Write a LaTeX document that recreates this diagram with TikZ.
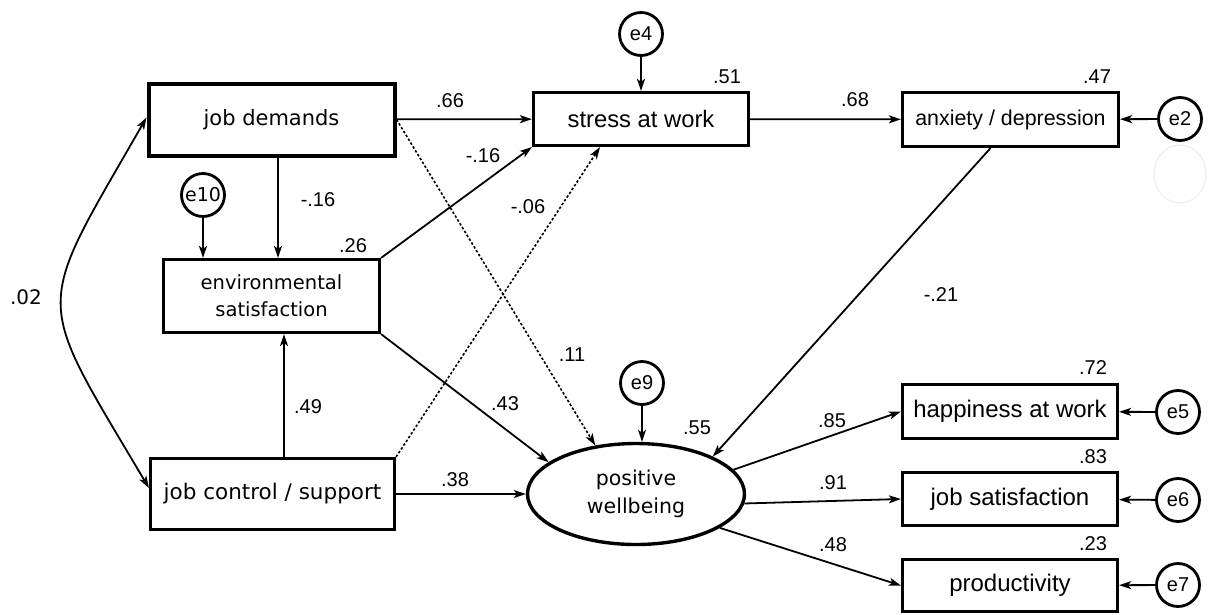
\documentclass[tikz,border=0pt]{standalone}
\usepackage{fontspec}
\setmainfont{Liberation Sans}
\newfontfamily\dvs{DejaVu Sans}
\usetikzlibrary{arrows.meta,shapes.geometric}

\begin{document}
\begin{tikzpicture}[x=1pt,y=-1pt,
  box/.style={draw,line width=3.2pt,inner sep=0pt,align=center},
  errc/.style={circle,draw,line width=2.8pt,minimum size=43pt,inner sep=0pt,
    font=\fontsize{20}{24}\selectfont},
  lab/.style={inner sep=0pt,font=\fontsize{20}{24}\selectfont},
  arr/.style={line width=1.8pt,-{Stealth[length=12pt,width=8pt,inset=3pt]}},
  dblarr/.style={line width=1.8pt,{Stealth[length=12pt,width=8pt,inset=3pt]}-{Stealth[length=12pt,width=8pt,inset=3pt]}},
  dotline/.style={dash pattern=on 2.5pt off 2pt,line width=1.6pt}
]
\useasboundingbox (0,0) rectangle (1208,614);

% faint residual outline to the right
\draw[black!7,line width=1.2pt] (1180,174) ellipse [x radius=26pt,y radius=29pt];

% observed and latent variables
\node[box,line width=4pt,minimum width=246pt,minimum height=72pt,
  font=\dvs\fontsize{21}{25}\selectfont] (jd) at (271.5,119.5) {job demands};
\node[box,minimum width=215pt,minimum height=53pt,
  font=\fontsize{23.8}{28}\selectfont] (st) at (641,119) {stress at work};
\node[box,minimum width=216pt,minimum height=54pt,
  font=\fontsize{21.4}{25}\selectfont] (ax) at (1010.5,119.5) {anxiety / depression};
\node[box,minimum width=216pt,minimum height=73pt,
  font=\dvs\fontsize{19.5}{27}\selectfont] (es) at (271.5,296) {environmental\\satisfaction};
\node[box,minimum width=244pt,minimum height=71pt,
  font=\dvs\fontsize{21.5}{25}\selectfont] (jc) at (272.5,494) {job control / support};
\node[ellipse,draw,line width=3.4pt,minimum width=217pt,minimum height=101pt,inner sep=0pt,
  align=center,font=\dvs\fontsize{20.5}{28}\selectfont] (pw) at (636,494) {positive\\wellbeing};
\node[box,minimum width=215pt,minimum height=54pt,
  font=\fontsize{24}{28}\selectfont] (hp) at (1010,411.5) {happiness at work};
\node[box,minimum width=215pt,minimum height=53pt,
  font=\fontsize{24}{28}\selectfont] (js) at (1010,499) {job satisfaction};
\node[box,minimum width=215pt,minimum height=52pt,
  font=\fontsize{24}{28}\selectfont] (pr) at (1010,585.5) {productivity};

% error terms
\node[errc] (e4) at (641,34) {e4};
\node[errc] (e2) at (1180,119) {e2};
\node[errc,font=\dvs\fontsize{19}{23}\selectfont] (e10) at (203,195) {e10};
\node[errc] (e9) at (642,383) {e9};
\node[errc] (e5) at (1178,412) {e5};
\node[errc] (e6) at (1178,500) {e6};
\node[errc] (e7) at (1178,585) {e7};

% structural paths
\draw[arr] (jd) -- (st);
\draw[arr,dotline] (jd.east) -- (pw.130);
\draw[arr] (es.north east) -- (st.south west);
\draw[arr,dotline] (jc.north east) -- ([xshift=-41pt]st.south);
\draw[arr] (es.south east) -- (pw.160);
\draw[arr] (jc) -- (pw);
\draw[arr] (st) -- (ax);
\draw[arr] ([xshift=-20pt]ax.south) -- (pw.26);
\draw[arr] (pw.14) -- (hp.west);
\draw[arr] (pw.355) -- (js.west);
\draw[arr] (pw.338) -- (pr.west);
\draw[arr] ([xshift=6.5pt]jd.south) -- ([xshift=6.5pt]jd.south |- es.north);
\draw[arr] ([xshift=11.5pt]jc.north) -- ([xshift=11.5pt]jc.north |- es.south);

% residual paths
\draw[arr] (e4) -- (st);
\draw[arr] (e2) -- (ax);
\draw[arr] (e10) -- (e10 |- es.north);
\draw[arr] (e9) -- (e9 |- pw.north);
\draw[arr] (e5) -- (hp);
\draw[arr] (e6) -- (js);
\draw[arr] (e7) -- (pr);

% covariance
\draw[dblarr]
  ([yshift=2pt]jd.west) .. controls (33,315) and (33,292) .. ([yshift=6pt]jc.west);

% coefficients
\node[lab,font=\dvs\fontsize{20}{24}\selectfont] (c02) at (26,297) {.02};
\node[lab] (c66) at (450,101) {.66};
\node[lab] (c16a) at (483,156) {-.16};
\node[lab] (c06) at (528,207) {-.06};
\node[lab] (c68) at (855,100) {.68};
\node[lab] (c21) at (941,295) {-.21};
\node[lab] (c11) at (572,355) {.11};
\node[lab] (c43) at (505,404) {.43};
\node[lab] (c38) at (455,480) {.38};
\node[lab] (c85) at (832,421) {.85};
\node[lab] (c91) at (833,483) {.91};
\node[lab] (c48) at (833,545) {.48};
\node[lab] (c16b) at (318,200) {-.16};
\node[lab] (c49) at (308,407) {.49};
% squared multiple correlations
\node[lab] (r26) at (353,246) {.26};
\node[lab] (r51) at (727,77) {.51};
\node[lab] (r47) at (1097,77) {.47};
\node[lab] (r55) at (697,428) {.55};
\node[lab] (r72) at (1093,368) {.72};
\node[lab] (r83) at (1093,457) {.83};
\node[lab] (r23) at (1093,544) {.23};
\end{tikzpicture}
\end{document}
